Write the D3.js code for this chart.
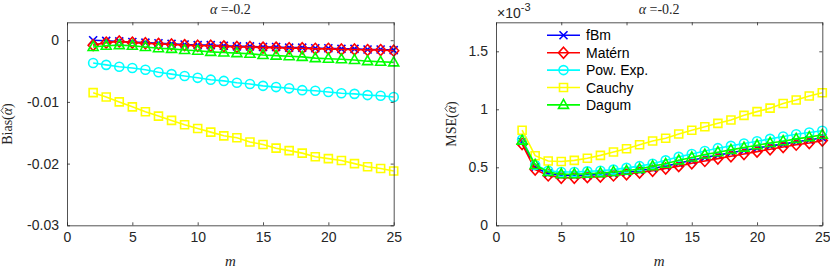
<!DOCTYPE html>
<html><head><meta charset="utf-8">
<script src="https://cdn.jsdelivr.net/npm/d3@7"></script>
<style>
body{margin:0;background:#fff;}
svg{display:block;}
.tick text{font-family:"Liberation Sans",Arial,sans-serif;font-size:14px;fill:#262626;}
.domain{stroke:#262626;}
.tick line{stroke:#262626;}
</style></head>
<body><svg id="c" width="830" height="270"></svg>
<script>
const mVals = [2,3,4,5,6,7,8,9,10,11,12,13,14,15,16,17,18,19,20,21,22,23,24,25];
const seriesNames = ["fBm","Matérn","Pow. Exp.","Cauchy","Dagum"];
const seriesColors = ["#0000ff","#ff0000","#00ffff","#ffff00","#00ff00"];
const seriesMarkers = ["x","diamond","circle","square","triangle"];

const biasFbm = [0.0000,-0.0001,-0.0002,-0.0003,-0.0004,-0.0005,-0.0006,-0.0007,-0.0008,-0.0008,-0.0009,-0.0010,-0.0010,-0.0011,-0.0011,-0.0012,-0.0012,-0.0013,-0.0013,-0.0014,-0.0014,-0.0015,-0.0015,-0.0016];
const biasMatern = [-0.0008,-0.0004,-0.0002,-0.0004,-0.0005,-0.0006,-0.0007,-0.0008,-0.0009,-0.0009,-0.0010,-0.0011,-0.0011,-0.0012,-0.0012,-0.0013,-0.0013,-0.0014,-0.0014,-0.0015,-0.0015,-0.0016,-0.0016,-0.0017];
const biasPowExp = [-0.0037,-0.0040,-0.0043,-0.0045,-0.0048,-0.0052,-0.0055,-0.0058,-0.0061,-0.0064,-0.0066,-0.0069,-0.0071,-0.0074,-0.0076,-0.0078,-0.0081,-0.0082,-0.0084,-0.0086,-0.0087,-0.0089,-0.0090,-0.0092];
const biasCauchy = [-0.0085,-0.0092,-0.0100,-0.0108,-0.0116,-0.0123,-0.0130,-0.0137,-0.0143,-0.0149,-0.0155,-0.0158,-0.0165,-0.0169,-0.0175,-0.0179,-0.0183,-0.0189,-0.0192,-0.0195,-0.0200,-0.0205,-0.0208,-0.0212];
const biasDagum = [-0.0011,-0.0009,-0.0008,-0.0009,-0.0011,-0.0013,-0.0014,-0.0016,-0.0017,-0.0019,-0.0020,-0.0021,-0.0022,-0.0024,-0.0025,-0.0026,-0.0027,-0.0029,-0.0030,-0.0031,-0.0032,-0.0034,-0.0035,-0.0036];

// MSE in units of 1e-3
const mseFbm = [0.72,0.50,0.445,0.43,0.43,0.43,0.44,0.445,0.455,0.47,0.49,0.51,0.535,0.56,0.585,0.605,0.625,0.645,0.665,0.685,0.70,0.72,0.735,0.755];
const mseMatern = [0.70,0.48,0.43,0.41,0.41,0.415,0.42,0.43,0.44,0.455,0.47,0.49,0.51,0.535,0.555,0.575,0.595,0.615,0.635,0.655,0.675,0.695,0.71,0.73];
const msePowExp = [0.74,0.52,0.47,0.46,0.46,0.465,0.47,0.48,0.495,0.51,0.53,0.56,0.59,0.615,0.64,0.665,0.685,0.705,0.725,0.745,0.765,0.785,0.80,0.815];
const mseCauchy = [0.82,0.60,0.554,0.55,0.56,0.578,0.603,0.632,0.66,0.695,0.727,0.75,0.787,0.82,0.85,0.879,0.908,0.948,0.98,1.01,1.05,1.08,1.115,1.143];
const mseDagum = [0.73,0.52,0.46,0.44,0.44,0.445,0.45,0.46,0.47,0.485,0.51,0.53,0.56,0.585,0.61,0.63,0.65,0.67,0.69,0.71,0.725,0.745,0.76,0.78];

const xTicks = [0,5,10,15,20,25];
const xTickLabels = ["0","5","10","15","20","25"];
const biasTicks = [0,-0.01,-0.02,-0.03];
const biasTickLabels = ["0","-0.01","-0.02","-0.03"];
const mseTicks = [0,0.5,1,1.5];
const mseTickLabels = ["0","0.5","1","1.5"];
const titleValue = "-0.2";

const svg = d3.select("#c");
const axCol = "#262626";
const serif = "'Liberation Serif','DejaVu Serif',serif";

function markerPath(type){
  switch(type){
    case "x": return "M-4,-4L4,4M-4,4L4,-4";
    case "diamond": return "M0,-5.5L5,0L0,5.5L-5,0Z";
    case "circle": return d3.symbol(d3.symbolCircle, 64)();
    case "square": return "M-4,-4H4V4H-4Z";
    case "triangle": return "M0,-5.5L5,3.5L-5,3.5Z";
  }
}

function panel(opts){
  const {x0,x1,y0,y1,yDomain,series,yTicks,yTickLabels} = opts;
  const x = d3.scaleLinear().domain([0,25]).range([x0,x1]);
  const y = d3.scaleLinear().domain(yDomain).range([y1,y0]);
  const g = svg.append("g");
  const fmtX = (d)=>xTickLabels[xTicks.indexOf(d)];
  const fmtY = (d)=>yTickLabels[yTicks.indexOf(d)];
  const dg = g.append("g");
  series.forEach((s,i)=>{
    const line = d3.line().x((d,j)=>x(mVals[j])).y(d=>y(d));
    dg.append("path").attr("d",line(s)).attr("fill","none")
      .attr("stroke",seriesColors[i]).attr("stroke-width",1.6);
    dg.selectAll(null).data(s).enter().append("path")
      .attr("d",markerPath(seriesMarkers[i]))
      .attr("transform",(d,j)=>`translate(${x(mVals[j])},${y(d)})`)
      .attr("fill","none").attr("stroke",seriesColors[i]).attr("stroke-width",1.6);
  });
  g.append("g").attr("transform",`translate(0,${y1})`)
    .call(d3.axisBottom(x).tickValues(xTicks).tickFormat(fmtX).tickSizeInner(-3).tickSizeOuter(0).tickPadding(7));
  g.append("g").attr("transform",`translate(0,${y0})`)
    .call(d3.axisTop(x).tickValues(xTicks).tickFormat("").tickSizeInner(-3).tickSizeOuter(0));
  g.append("g").attr("transform",`translate(${x0},0)`)
    .call(d3.axisLeft(y).tickValues(yTicks).tickFormat(fmtY).tickSizeInner(-3).tickSizeOuter(0).tickPadding(8));
  g.append("g").attr("transform",`translate(${x1},0)`)
    .call(d3.axisRight(y).tickValues(yTicks).tickFormat("").tickSizeInner(-3).tickSizeOuter(0));
  g.selectAll(".domain").attr("stroke",axCol).attr("stroke-width",0.8);
  g.selectAll(".tick line").attr("stroke",axCol).attr("stroke-width",0.8);
  g.selectAll(".tick text").attr("fill",axCol);
  const t = svg.append("text").attr("x",(x0+x1)/2).attr("y",14).attr("text-anchor","middle")
    .attr("font-family",serif).attr("font-size",14).attr("fill",axCol);
  t.append("tspan").attr("font-style","italic").text("α");
  t.append("tspan").text(" =" + titleValue);
  svg.append("text").attr("x",(x0+x1)/2).attr("y",266).attr("text-anchor","middle")
    .attr("font-family",serif).attr("font-style","italic")
    .attr("font-size",15).attr("fill",axCol).text("m");
  return {x,y};
}

panel({x0:67,x1:393.7,y0:22.3,y1:225.3,yDomain:[-0.03,0.0029],
  series:[biasFbm,biasMatern,biasPowExp,biasCauchy,biasDagum],yTicks:biasTicks,yTickLabels:biasTickLabels});
panel({x0:496,x1:822.3,y0:22.3,y1:225.3,yDomain:[0,1.75],
  series:[mseFbm,mseMatern,msePowExp,mseCauchy,mseDagum],yTicks:mseTicks,yTickLabels:mseTickLabels});

function ylabel(cx, cy, txt){
  const g = svg.append("g").attr("transform",`translate(${cx},${cy}) rotate(-90)`);
  const t = g.append("text").attr("text-anchor","middle").attr("font-family",serif)
    .attr("font-size",14).attr("fill",axCol);
  const a = t.append("tspan").text(txt+"(");
  const b = t.append("tspan").attr("font-style","italic").text("α");
  t.append("tspan").text(")");
  // hat over alpha
  const bb = b.node();
  const start = bb.getStartPositionOfChar(0).x, end = bb.getEndPositionOfChar(0).x;
  const mid = (start+end)/2 + 1;
  g.append("path").attr("d",`M${mid-3},-8.5L${mid},-11L${mid+3},-8.5`)
    .attr("fill","none").attr("stroke",axCol).attr("stroke-width",0.8);
}
ylabel(12,124,"Bias");
ylabel(456,124,"MSE");

const ex = svg.append("text").attr("x",497).attr("y",18).attr("font-family","'Liberation Sans',Arial,sans-serif")
  .attr("font-size",14).attr("fill",axCol);
ex.append("tspan").text("×10");
ex.append("tspan").attr("dy",-7).attr("font-size",11).text("-3");

const lg = svg.append("g");
seriesNames.forEach((n,i)=>{
  const yy = 35.3 + i*17.4;
  lg.append("line").attr("x1",547).attr("x2",580).attr("y1",yy).attr("y2",yy)
    .attr("stroke",seriesColors[i]).attr("stroke-width",1.6);
  lg.append("path").attr("d",markerPath(seriesMarkers[i])).attr("transform",`translate(563.5,${yy})`)
    .attr("fill","none").attr("stroke",seriesColors[i]).attr("stroke-width",1.6);
  lg.append("text").attr("x",586).attr("y",yy+5).attr("font-family","'Liberation Sans',Arial,sans-serif")
    .attr("font-size",14).attr("fill","#000").text(n);
});
</script></body></html>
